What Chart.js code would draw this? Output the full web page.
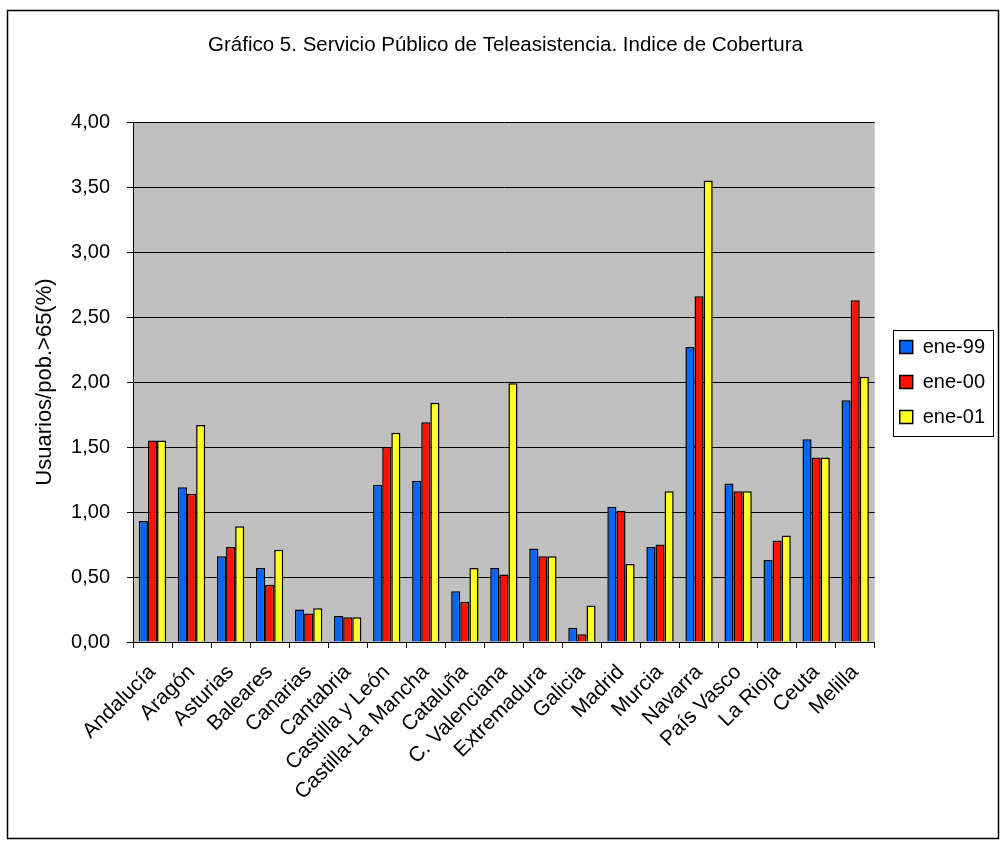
<!DOCTYPE html>
<html>
<head>
<meta charset="utf-8">
<script src="https://cdn.jsdelivr.net/npm/chart.js@4/dist/chart.umd.min.js"></script>
<style>
  html, body { margin: 0; padding: 0; background: #ffffff; }
  canvas { display: block; }
</style>
</head>
<body>
<canvas id="myChart" width="1001" height="841"></canvas>
<script>
var regiones = ["Andalucía", "Aragón", "Asturias", "Baleares", "Canarias", "Cantabria",
    "Castilla y León", "Castilla-La Mancha", "Cataluña", "C. Valenciana", "Extremadura",
    "Galicia", "Madrid", "Murcia", "Navarra", "País Vasco", "La Rioja", "Ceuta", "Melilla"];
var ene99 = [0.93, 1.19, 0.66, 0.57, 0.25, 0.20, 1.21, 1.24, 0.39, 0.57, 0.72, 0.11, 1.04, 0.73, 2.27, 1.22, 0.63, 1.56, 1.86];
var ene00 = [1.55, 1.14, 0.73, 0.44, 0.22, 0.19, 1.50, 1.69, 0.31, 0.52, 0.66, 0.06, 1.01, 0.75, 2.66, 1.16, 0.78, 1.42, 2.63];
var ene01 = [1.55, 1.67, 0.89, 0.71, 0.26, 0.19, 1.61, 1.84, 0.57, 1.99, 0.66, 0.28, 0.60, 1.16, 3.55, 1.16, 0.82, 1.42, 2.04];
var seriesNames = ["ene-99", "ene-00", "ene-01"];

var fontFam = "'Liberation Sans', Arial, sans-serif";
Chart.defaults.font.family = fontFam;
Chart.defaults.color = "#000000";

// grey plot area + outer frame + legend frame
var decor = {
    id: "decor",
    beforeDraw: function (chart) {
        var ctx = chart.ctx, a = chart.chartArea;
        ctx.save();
        ctx.fillStyle = "#ffffff";
        ctx.fillRect(0, 0, chart.width, chart.height);
        ctx.fillStyle = "#c0c0c0";
        ctx.fillRect(a.left, a.top, a.right - a.left, a.bottom - a.top);
        ctx.restore();
    },
    afterDraw: function (chart) {
        var ctx = chart.ctx;
        ctx.save();
        ctx.strokeStyle = "#000000";
        ctx.lineWidth = 1.5;
        ctx.strokeRect(7.5, 10.5, 991, 828);
        var hb = chart.legend.legendHitBoxes;
        if (hb && hb.length) {
            var l = Infinity, r = -Infinity, t = Infinity, b = -Infinity;
            hb.forEach(function (h) {
                l = Math.min(l, h.left); r = Math.max(r, h.left + h.width);
                t = Math.min(t, h.top); b = Math.max(b, h.top + h.height);
            });
            ctx.lineWidth = 1;
            ctx.strokeStyle = "#000000";
            ctx.strokeRect(Math.round(l - 7) + 0.5, Math.round(t - 7) + 0.5, Math.round(r - l + 15), Math.round(b - t + 16));
        }
        ctx.restore();
    }
};

var chart = new Chart(document.getElementById("myChart"), {
    type: "bar",
    data: {
        labels: regiones,
        datasets: [
            { label: seriesNames[0], data: ene99, backgroundColor: "#0066ff", borderColor: "#000000", borderWidth: 1.5 },
            { label: seriesNames[1], data: ene00, backgroundColor: "#ff1100", borderColor: "#000000", borderWidth: 1.5 },
            { label: seriesNames[2], data: ene01, backgroundColor: "#ffff22", borderColor: "#000000", borderWidth: 1.5 }
        ]
    },
    options: {
        responsive: false,
        animation: false,
        devicePixelRatio: 1,
        datasets: { bar: { categoryPercentage: 0.7, barPercentage: 1 } },
        layout: { padding: { left: 16, right: 6, top: 0, bottom: 0 } },
        plugins: {
            title: {
                display: true,
                text: "Gráfico 5. Servicio Público de Teleasistencia. Indice de Cobertura",
                font: { size: 20.5, weight: "normal" },
                color: "#000000",
                padding: { top: 33, bottom: 64.5 }
            },
            legend: {
                position: "right",
                fullSize: false,
                labels: {
                    boxWidth: 13, boxHeight: 13, padding: 15,
                    font: { size: 20 }, color: "#000000"
                }
            },
            tooltip: { enabled: false }
        },
        scales: {
            x: {
                grid: { display: true, drawOnChartArea: false, drawTicks: true, tickLength: 6, color: "#000000", offset: true },
                border: { display: true, color: "#000000", width: 1 },
                ticks: { maxRotation: 45, minRotation: 45, font: { size: 21 }, color: "#000000", padding: 12, autoSkip: false },
                afterFit: function (s) { s.height = 199; }
            },
            y: {
                min: 0, max: 4,
                grid: { color: "#000000", lineWidth: 1, drawTicks: true, tickLength: 6 },
                border: { display: true, color: "#000000", width: 1 },
                ticks: {
                    stepSize: 0.5, font: { size: 20 }, color: "#000000", padding: 17,
                    callback: function (v) { return v.toFixed(2).replace(".", ","); }
                },
                title: {
                    display: true, text: "Usuarios/pob.>65(%)",
                    font: { size: 22 }, color: "#000000",
                    padding: { top: 16, bottom: 0 }
                },
                afterFit: function (s) { s.width = 117; }
            },
            // empty spacer between plot area and legend
            gap: {
                type: "linear", position: "right", display: true,
                grid: { display: false }, border: { display: false }, ticks: { display: false },
                afterFit: function (s) { s.width = 10; }
            }
        }
    },
    plugins: [decor]
});
</script>
</body>
</html>
